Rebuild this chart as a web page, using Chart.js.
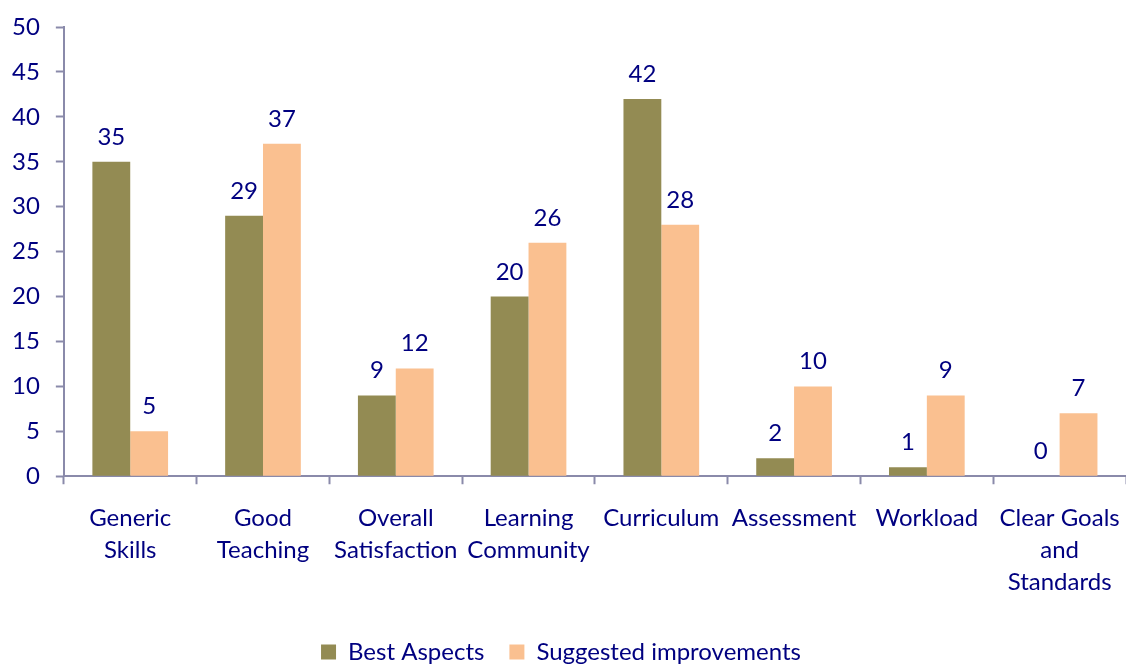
<!DOCTYPE html>
<html>
<head>
<meta charset="utf-8">
<script src="https://cdn.jsdelivr.net/npm/chart.js@4"></script>
<style>
html,body{margin:0;padding:0;background:#fff;}
#wrap{width:1126px;height:664px;position:relative;}
</style>
</head>
<body>
<div id="wrap"><canvas id="c" width="1126" height="664"></canvas></div>
<script>
const categories = [["Generic","Skills"],["Good","Teaching"],["Overall","Satisfaction"],["Learning","Community"],"Curriculum","Assessment","Workload",["Clear Goals","and","Standards"]];
const bestAspects = [35,29,9,20,42,2,1,0];
const suggestedImprovements = [5,37,12,26,28,10,9,7];
const seriesNames = ["Best Aspects","Suggested improvements"];

const TEXT = "#000080";
const AXIS = "#8a8aaa";
const FONT = "Lato, 'Open Sans', sans-serif";
const FS = 24;

const valueLabels = {
  id: 'valueLabels',
  afterDatasetsDraw(chart) {
    const ctx = chart.ctx;
    ctx.save();
    ctx.font = FS + "px " + FONT;
    ctx.fillStyle = TEXT;
    ctx.textAlign = "center";
    ctx.textBaseline = "alphabetic";
    chart.data.datasets.forEach((ds, i) => {
      const meta = chart.getDatasetMeta(i);
      meta.data.forEach((el, j) => {
        ctx.fillText(String(ds.data[j]), el.x, el.y - 17);
      });
    });
    ctx.restore();
  }
};

new Chart(document.getElementById('c'), {
  type: 'bar',
  data: {
    labels: categories,
    datasets: [
      {label: seriesNames[0], data: bestAspects, backgroundColor: "#938b53", categoryPercentage: 0.57, barPercentage: 1.0},
      {label: seriesNames[1], data: suggestedImprovements, backgroundColor: "#fac090", categoryPercentage: 0.57, barPercentage: 1.0}
    ]
  },
  options: {
    responsive: false,
    animation: false,
    devicePixelRatio: 1,
    layout: {padding: {top: 27, right: 0, bottom: -10, left: -4}},
    plugins: {
      legend: {
        position: 'bottom',
        labels: {
          font: {family: FONT, size: FS},
          color: TEXT,
          boxWidth: 15,
          boxHeight: 15,
          padding: 25,
          useBorderRadius: false
        }
      },
      tooltip: {enabled: false}
    },
    scales: {
      x: {
        grid: {offset: true, drawOnChartArea: false, color: AXIS, tickLength: 8, tickWidth: 2},
        border: {color: AXIS, width: 2},
        ticks: {font: {family: FONT, size: FS, lineHeight: 1.33}, color: TEXT, padding: 18, maxRotation: 0, autoSkip: false},
        afterFit(scale) { scale.height -= 1; scale.paddingRight = 0; scale.paddingLeft = 0; }
      },
      y: {
        min: 0, max: 50,
        grid: {drawOnChartArea: false, color: AXIS, tickLength: 8, tickWidth: 2},
        border: {color: AXIS, width: 2},
        ticks: {stepSize: 5, font: {family: FONT, size: FS}, color: TEXT, padding: 16},
        afterFit(scale) { scale.paddingTop = 0; scale.paddingBottom = 0; }
      }
    }
  },
  plugins: [valueLabels]
});
</script>
</body>
</html>
